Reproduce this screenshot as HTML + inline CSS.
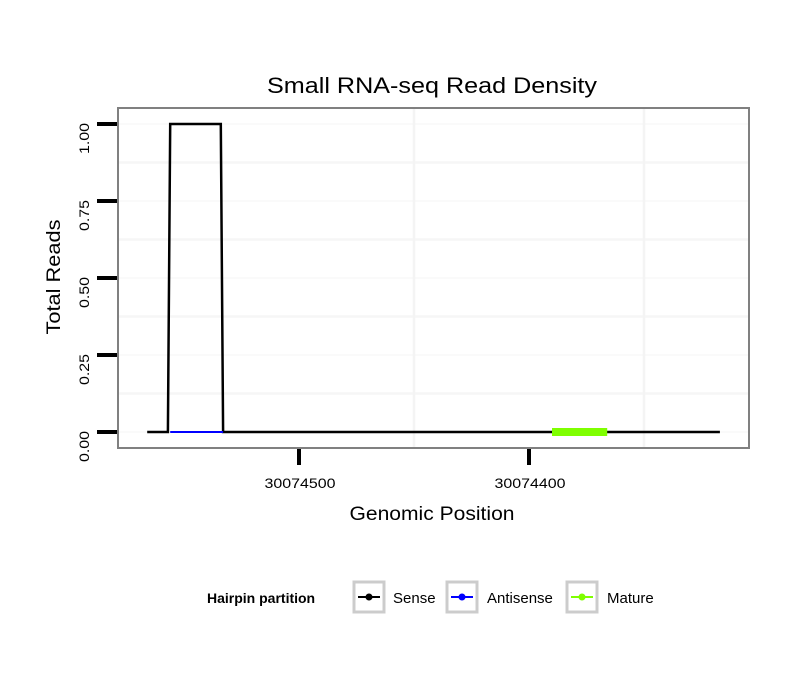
<!DOCTYPE html>
<html><head><meta charset="utf-8"><style>
body{margin:0;background:#fff;font-family:"Liberation Sans",sans-serif}
</style></head><body>
<svg width="810" height="690" xmlns="http://www.w3.org/2000/svg" font-family="Liberation Sans, sans-serif">
<rect width="810" height="690" fill="#fff"/>
<text x="432" y="93" font-size="22" text-anchor="middle" textLength="330" lengthAdjust="spacingAndGlyphs">Small RNA-seq Read Density</text>
<g id="grid"></g>
<g id="marks"></g>
<rect x="118" y="108" width="631" height="340" fill="none" stroke="#808080" stroke-width="2"/>
<g id="axes"></g>
<text x="432" y="520" font-size="19" text-anchor="middle" textLength="165" lengthAdjust="spacingAndGlyphs">Genomic Position</text>
<text transform="translate(60,277) rotate(-90)" font-size="19" text-anchor="middle" textLength="115" lengthAdjust="spacingAndGlyphs">Total Reads</text>
<g>
<text x="207" y="603" font-size="14" font-weight="bold">Hairpin partition</text>
<g>
<rect x="354" y="582" width="30" height="30" fill="#fff" stroke="#ccc" stroke-width="3"/>
<line x1="358" y1="597" x2="380" y2="597" stroke="#000" stroke-width="2"/><circle cx="369" cy="597" r="3.5" fill="#000"/>
<text x="393" y="603" font-size="15">Sense</text></g>
<g>
<rect x="447" y="582" width="30" height="30" fill="#fff" stroke="#ccc" stroke-width="3"/>
<line x1="451" y1="597" x2="473" y2="597" stroke="#00f" stroke-width="2"/><circle cx="462" cy="597" r="3.5" fill="#00f"/>
<text x="487" y="603" font-size="15">Antisense</text></g>
<g>
<rect x="567" y="582" width="30" height="30" fill="#fff" stroke="#ccc" stroke-width="3"/>
<line x1="571" y1="597" x2="593" y2="597" stroke="#7fff00" stroke-width="2"/><circle cx="582" cy="597" r="3.5" fill="#7fff00"/>
<text x="607" y="603" font-size="15">Mature</text></g>
</g>
</svg>
<script>
const senseX=[30074566,30074557,30074556,30074534,30074533,30074317];
const senseY=[0,0,1,1,0,0];
const antiX=[30074556,30074533];
const antiY=[0,0];
const matureX=[30074390,30074366];
const matureY=[0,0];
const yTicks=[0,0.25,0.5,0.75,1];
const yTickLabels=["0.00","0.25","0.50","0.75","1.00"];
const xTicks=[30074500,30074400];
const xTickLabels=["30074500","30074400"];
const xMinor=[30074450,30074350];
const NS="http://www.w3.org/2000/svg";
function sx(p){return 299+(30074500-p)*2.3;}
function sy(v){return 432-v*308;}
function mk(t,a,parent){const e=document.createElementNS(NS,t);for(const k in a)e.setAttribute(k,a[k]);document.getElementById(parent).appendChild(e);return e;}
for(let i=0;i<yTicks.length-1;i++){const v=(yTicks[i]+yTicks[i+1])/2;
const g=mk('line',{x1:119,x2:748,y1:sy(v),y2:sy(v),stroke:'#f6f6f6','stroke-width':2.5},'grid');

}
yTicks.forEach(v=>{const g=mk('line',{x1:119,x2:748,y1:sy(v),y2:sy(v),stroke:'#fafafa','stroke-width':2},'grid');

});
xMinor.forEach(p=>{const g=mk('line',{x1:sx(p),x2:sx(p),y1:109,y2:447,stroke:'#f4f4f4','stroke-width':2.5},'grid');

});
function path(xs,ys,color,w,name){let d=xs.map((p,i)=>(i?'L':'M')+sx(p)+','+sy(ys[i])).join(' ');
const e=mk('path',{d:d,fill:'none',stroke:color,'stroke-width':w},'marks');

}
path(senseX,senseY,'#000',2.5,'sense-line');
path(antiX,antiY,'#00f',2,'antisense-line');
path(matureX,matureY,'#7fff00',8,'mature-line');
yTicks.forEach((v,i)=>{const t=mk('line',{x1:97,x2:117,y1:sy(v),y2:sy(v),stroke:'#000','stroke-width':4},'axes');


const l=mk('text',{transform:`translate(89,${sy(v)-1}) rotate(-90)`,'font-size':14,'text-anchor':'end',textLength:31,lengthAdjust:'spacingAndGlyphs'},'axes');l.textContent=yTickLabels[i];

});
xTicks.forEach((p,i)=>{const t=mk('line',{x1:sx(p),x2:sx(p),y1:449,y2:465,stroke:'#000','stroke-width':4},'axes');


const l=mk('text',{x:sx(p)+1,y:488,'font-size':14,'text-anchor':'middle',textLength:71,lengthAdjust:'spacingAndGlyphs'},'axes');l.textContent=xTickLabels[i];

});
</script>
</body></html>
